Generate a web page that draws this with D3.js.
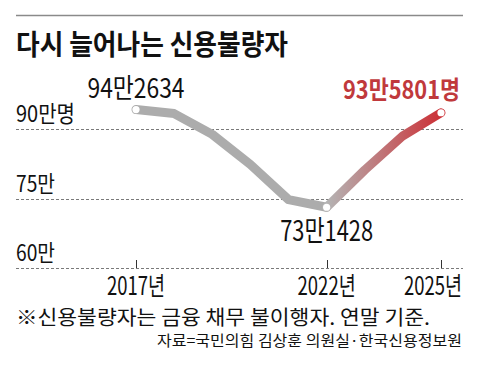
<!DOCTYPE html>
<html><head><meta charset="utf-8">
<script src="https://cdn.jsdelivr.net/npm/d3@7"></script>
<style>
html,body{margin:0;padding:0;background:#fff;}
svg{display:block;font-family:"Noto Sans CJK KR","Noto Sans",sans-serif;}
</style></head>
<body>
<script>
const years = [2017, 2018, 2019, 2020, 2021, 2022, 2023, 2024, 2025];
const values = [94.2634, 93.4, 88.9, 82.4, 74.8, 73.1428, 81.2, 88.6, 93.5801]; // 만명
const yTicks = [90, 75, 60];
const yTickLabels = ["90만명", "75만", "60만"];
const xTicks = [2017, 2022, 2025];
const xTickLabels = ["2017년", "2022년", "2025년"];
const pointLabels = [
  {year: 2017, text: "94만2634"},
  {year: 2022, text: "73만1428"},
  {year: 2025, text: "93만5801명"}
];
const title = "다시 늘어나는 신용불량자";
const note = "※신용불량자는 금융 채무 불이행자. 연말 기준.";
const source = "자료=국민의힘 김상훈 의원실·한국신용정보원";

const W = 480, H = 368;
const svg = d3.select("body").append("svg").attr("width", W).attr("height", H);

const x = d3.scaleLinear().domain([2017, 2025]).range([136, 441]);
const y = d3.scaleLinear().domain([60, 90]).range([268, 129.3]);

function fit(sel, len) { return sel.attr("textLength", len).attr("lengthAdjust", "spacingAndGlyphs"); }

// top rule
svg.append("line").attr("x1", 16).attr("x2", 463).attr("y1", 15.5).attr("y2", 15.5)
  .attr("stroke", "#8a8a8a").attr("stroke-width", 1.5);

// title
fit(svg.append("text").attr("x", 16).attr("y", 55).attr("font-size", 28).attr("font-weight", 700)
  .attr("fill", "#111").text(title), 272);

// grid lines
svg.append("g").selectAll("line").data(yTicks).join("line")
  .attr("x1", 16).attr("x2", 463)
  .attr("y1", d => Math.round(y(d)) + 0.5).attr("y2", d => Math.round(y(d)) + 0.5)
  .attr("stroke", "#7a7a7a").attr("stroke-width", 1).attr("stroke-dasharray", "3,2");

// y labels
const yLabW = [59, 39, 39];
svg.append("g").selectAll("text").data(yTicks).join("text")
  .attr("x", 16).attr("y", d => y(d) - 7)
  .attr("font-size", 23).attr("fill", "#111")
  .text((d, i) => yTickLabels[i])
  .each(function(d, i) { fit(d3.select(this), yLabW[i]); });

// x ticks
svg.append("g").selectAll("line").data(xTicks).join("line")
  .attr("x1", d => Math.round(x(d)) + 0.5).attr("x2", d => Math.round(x(d)) + 0.5)
  .attr("y1", 260).attr("y2", 268)
  .attr("stroke", "#333").attr("stroke-width", 1);

// x labels: horizontally condensed via transform
const xl = svg.append("g").selectAll("g").data(xTicks).join("g")
  .attr("transform", (d, i) => `translate(${i === 2 ? 462 : x(d)},295) scale(0.74,1)`);
xl.append("text")
  .attr("text-anchor", (d, i) => i === 2 ? "end" : "middle")
  .attr("font-size", 25).attr("fill", "#111")
  .text((d, i) => xTickLabels[i]);

// gradient
const defs = svg.append("defs");
const grad = defs.append("linearGradient").attr("id", "redGrad")
  .attr("gradientUnits", "userSpaceOnUse")
  .attr("x1", x(2022)).attr("x2", x(2025)).attr("y1", 0).attr("y2", 0);
grad.append("stop").attr("offset", "0%").attr("stop-color", "#b4b4b4");
grad.append("stop").attr("offset", "100%").attr("stop-color", "#cc3036");

const data = years.map((yr, i) => ({yr, v: values[i]}));
const line = d3.line().x(d => x(d.yr)).y(d => y(d.v));

svg.append("path").datum(data.filter(d => d.yr <= 2022))
  .attr("d", line).attr("fill", "none").attr("stroke", "#acacac")
  .attr("stroke-width", 9).attr("stroke-linejoin", "round").attr("stroke-linecap", "round");
svg.append("path").datum(data.filter(d => d.yr >= 2022))
  .attr("d", line).attr("fill", "none").attr("stroke", "url(#redGrad)")
  .attr("stroke-width", 9).attr("stroke-linejoin", "round").attr("stroke-linecap", "round");

// marker dots
svg.append("g").selectAll("circle").data(data.filter(d => xTicks.includes(d.yr))).join("circle")
  .attr("cx", d => x(d.yr)).attr("cy", d => y(d.v)).attr("r", 3.6)
  .attr("fill", "#fff");

// point labels
const pl = svg.append("g");
const p0 = data.find(d => d.yr === 2017);
fit(pl.append("text").attr("x", x(2017)).attr("y", y(p0.v) - 12).attr("text-anchor", "middle")
  .attr("font-size", 27).attr("fill", "#111").text(pointLabels[0].text), 97);
const p1 = data.find(d => d.yr === 2022);
fit(pl.append("text").attr("x", x(2022)).attr("y", y(p1.v) + 34).attr("text-anchor", "middle")
  .attr("font-size", 28).attr("fill", "#111").text(pointLabels[1].text), 93);
const p2 = data.find(d => d.yr === 2025);
fit(pl.append("text").attr("x", 460).attr("y", y(p2.v) - 14).attr("text-anchor", "end")
  .attr("font-size", 25).attr("font-weight", 700).attr("fill", "#c0393c").text(pointLabels[2].text), 117);

// note and source
fit(svg.append("text").attr("x", 16).attr("y", 325).attr("font-size", 20).attr("fill", "#111").text(note), 414);
fit(svg.append("text").attr("x", 462).attr("y", 346).attr("text-anchor", "end")
  .attr("font-size", 14.5).attr("fill", "#111").text(source), 305);
</script>
</body></html>
